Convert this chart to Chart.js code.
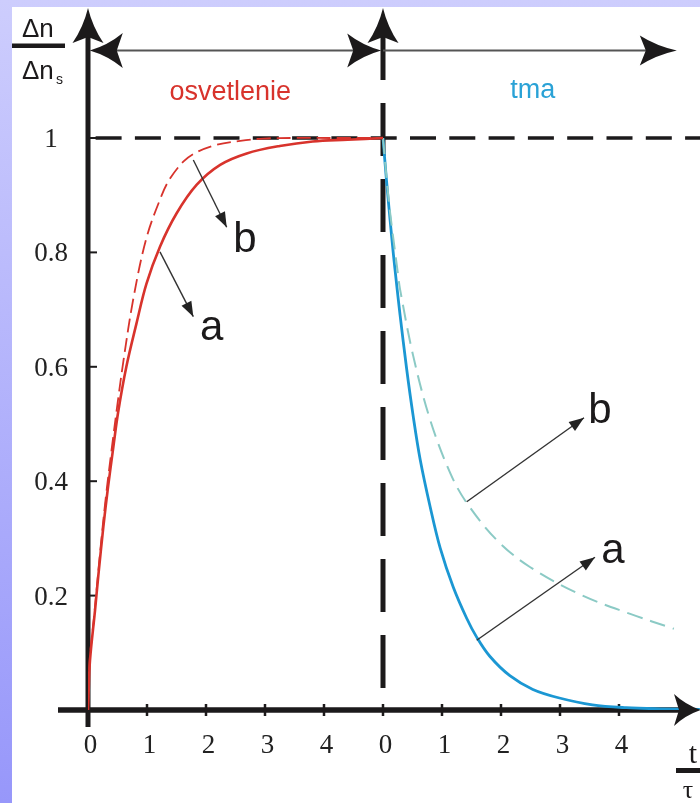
<!DOCTYPE html>
<html><head><meta charset="utf-8">
<script src="https://cdn.jsdelivr.net/npm/chart.js@4/dist/chart.umd.min.js"></script>
<style>html,body{margin:0;padding:0;background:#fff;overflow:hidden}canvas{display:block}</style>
</head><body>
<canvas id="c" width="700" height="803"></canvas>
<script>
// ---- data ----
const darkStart = 5;          // x position where the dark phase (t/tau = 0) begins
const xMax = 10.373;
const yMax = 1.229;
const xTickValues = [0, 1, 2, 3, 4, 5, 6, 7, 8, 9];
const xTickLabels = ['0', '1', '2', '3', '4', '0', '1', '2', '3', '4'];
const yTickValues = [0.2, 0.4, 0.6, 0.8, 1];
const yTickLabels = ['0.2', '0.4', '0.6', '0.8', '1'];

// illumination (rise), curve a (solid) and b (dashed)
const riseAT = [0, 0.01, 0.034, 0.12, 0.175, 0.26, 0.34, 0.43, 0.51, 0.65, 0.82, 0.99, 1.22, 1.5, 1.84, 2.24, 2.69, 3.25, 3.81, 4.4, 5.0];
const riseAY = [0, 0.03, 0.087, 0.175, 0.235, 0.32, 0.39, 0.46, 0.52, 0.60, 0.675, 0.745, 0.81, 0.868, 0.918, 0.953, 0.973, 0.986, 0.994, 0.997, 1.0];
const riseBT = [0, 0.01, 0.03, 0.1, 0.2, 0.3, 0.4, 0.5, 0.6, 0.77, 0.99, 1.25, 1.39, 1.62, 1.84, 2.18, 2.58, 2.97, 3.5, 4.2, 5.0];
const riseBY = [0, 0.035, 0.09, 0.16, 0.27, 0.37, 0.455, 0.535, 0.61, 0.72, 0.825, 0.90, 0.929, 0.959, 0.975, 0.988, 0.995, 0.999, 1.0, 1.0, 1.0];

// darkness (decay), curve a (solid) and b (dashed)
const decayAT = [0, 0.06, 0.12, 0.175, 0.23, 0.29, 0.40, 0.51, 0.63, 0.80, 0.97, 1.19, 1.42, 1.59, 1.81, 2.15, 2.54, 2.99, 3.55, 4.12, 4.7, 5.37];
const decayAY = [1.0, 0.925, 0.857, 0.798, 0.745, 0.69, 0.597, 0.515, 0.438, 0.355, 0.283, 0.215, 0.16, 0.127, 0.094, 0.06, 0.036, 0.021, 0.009, 0.004, 0.002, 0.001];
const decayBT = [0, 0.06, 0.12, 0.25, 0.29, 0.51, 0.8, 1.14, 1.42, 1.93, 2.49, 3.34, 4.19, 4.93];
const decayBY = [1.0, 0.93, 0.87, 0.765, 0.735, 0.62, 0.507, 0.414, 0.362, 0.297, 0.25, 0.202, 0.168, 0.142];

// phase labels and curve tags
const phaseLabels = ['osvetlenie', 'tma'];
const phaseLabelX = [2.41, 7.54];
const phaseLabelY = [1.066, 1.07];
const tagText = ['b', 'a', 'b', 'a'];
const tagX = [2.46, 1.9, 8.48, 8.70];
const tagY = [0.80, 0.647, 0.502, 0.257];
const tagFromX = [1.785, 1.22, 6.419, 6.588];
const tagFromY = [0.9615, 0.801, 0.364, 0.122];
const tagToX = [2.351, 1.785, 8.407, 8.593];
const tagToY = [0.844, 0.6876, 0.511, 0.267];
const phaseArrowY = 1.153;

const RED = '#d8332c', BLUE = '#1b97d3', TEAL = '#8bcac5', INK = '#1c1a1b';

function pts(ts, ys, off) { return ts.map((t, i) => ({ x: t + off, y: ys[i] })); }

function head(ctx, tx, ty, dx, dy, L, W, notch) {
  const nx = -dy, ny = dx;
  const bx = tx - dx * L, by = ty - dy * L;
  const mx = tx - dx * (L - notch), my = ty - dy * (L - notch);
  ctx.beginPath();
  ctx.moveTo(tx, ty);
  ctx.quadraticCurveTo(tx - dx * L * 0.55 + nx * W * 0.3, ty - dy * L * 0.55 + ny * W * 0.3, bx + nx * W, by + ny * W);
  ctx.lineTo(mx, my);
  ctx.lineTo(bx - nx * W, by - ny * W);
  ctx.quadraticCurveTo(tx - dx * L * 0.55 - nx * W * 0.3, ty - dy * L * 0.55 - ny * W * 0.3, tx, ty);
  ctx.closePath();
  ctx.fill();
}
function smallHead(ctx, x0, y0, x1, y1) {
  const len = Math.hypot(x1 - x0, y1 - y0), dx = (x1 - x0) / len, dy = (y1 - y0) / len;
  const nx = -dy, ny = dx, L = 15, W = 5.5;
  ctx.beginPath();
  ctx.moveTo(x1, y1);
  ctx.lineTo(x1 - dx * L + nx * W, y1 - dy * L + ny * W);
  ctx.lineTo(x1 - dx * L - nx * W, y1 - dy * L - ny * W);
  ctx.closePath();
  ctx.fill();
}

const deco = {
  id: 'deco',
  beforeDraw(chart) {
    const ctx = chart.ctx;
    ctx.save();
    const g = ctx.createLinearGradient(0, 0, 0, chart.height);
    g.addColorStop(0, '#cdcdfd');
    g.addColorStop(1, '#9797fa');
    ctx.fillStyle = g;
    ctx.fillRect(0, 0, chart.width, chart.height);
    ctx.fillStyle = '#ffffff';
    ctx.fillRect(12, 7, chart.width - 12, chart.height - 7);
    ctx.restore();
  },
  beforeDatasetsDraw(chart) {
    const ctx = chart.ctx, X = v => chart.scales.x.getPixelForValue(v), Y = v => chart.scales.y.getPixelForValue(v);
    ctx.save();
    ctx.strokeStyle = INK; ctx.fillStyle = INK;
    ctx.lineWidth = 3.5;
    ctx.setLineDash([26, 13.3]); ctx.lineDashOffset = 33.7;
    ctx.beginPath(); ctx.moveTo(X(0) + 2, Y(1)); ctx.lineTo(chart.width, Y(1)); ctx.stroke();
    ctx.lineWidth = 5;
    ctx.setLineDash([53, 23]); ctx.lineDashOffset = 0;
    ctx.beginPath(); ctx.moveTo(X(darkStart), Y(0) - 22); ctx.lineTo(X(darkStart), 30); ctx.stroke();
    ctx.setLineDash([]);
    ctx.lineWidth = 5;
    ctx.beginPath(); ctx.moveTo(X(0), Y(0) + 17); ctx.lineTo(X(0), 30); ctx.stroke();
    ctx.lineWidth = 5.5;
    ctx.beginPath(); ctx.moveTo(X(0) - 30, Y(0)); ctx.lineTo(chart.width - 12, Y(0)); ctx.stroke();
    ctx.lineWidth = 2.5;
    xTickValues.forEach(v => { ctx.beginPath(); ctx.moveTo(X(v), Y(0) - 6); ctx.lineTo(X(v), Y(0) + 6); ctx.stroke(); });
    ctx.lineWidth = 2;
    yTickValues.forEach(v => { ctx.beginPath(); ctx.moveTo(X(0), Y(v)); ctx.lineTo(X(0) + 9, Y(v)); ctx.stroke(); });
    head(ctx, X(0), 8, 0, -1, 35, 15.5, 6);
    head(ctx, X(darkStart), 8, 0, -1, 35, 15.5, 6);
    ctx.restore();
  },
  afterDatasetsDraw(chart) {
    const ctx = chart.ctx, X = v => chart.scales.x.getPixelForValue(v), Y = v => chart.scales.y.getPixelForValue(v);
    ctx.save();
    ctx.fillStyle = INK;
    head(ctx, chart.width + 1, Y(0), 1, 0, 27, 16, 5);
    const ay = Y(phaseArrowY);
    ctx.strokeStyle = '#555'; ctx.lineWidth = 2;
    ctx.beginPath(); ctx.moveTo(X(0) + 20, ay); ctx.lineTo(X(darkStart) - 15, ay); ctx.stroke();
    ctx.beginPath(); ctx.moveTo(X(darkStart), ay); ctx.lineTo(X(9.98) - 20, ay); ctx.stroke();
    ctx.fillStyle = INK;
    head(ctx, X(0.03), ay, -1, 0, 33, 17.5, 6);
    head(ctx, X(darkStart - 0.03), ay, 1, 0, 34, 17, 6);
    head(ctx, X(9.98), ay, 1, 0, 37, 15, 6);
    ctx.strokeStyle = '#333'; ctx.fillStyle = '#222'; ctx.lineWidth = 1.4;
    for (let i = 0; i < tagText.length; i++) {
      const x0 = X(tagFromX[i]), y0 = Y(tagFromY[i]), x1 = X(tagToX[i]), y1 = Y(tagToY[i]);
      ctx.beginPath(); ctx.moveTo(x0, y0); ctx.lineTo(x1, y1); ctx.stroke();
      smallHead(ctx, x0, y0, x1, y1);
    }
    ctx.fillStyle = INK;
    ctx.font = '42px "Liberation Sans", Arial, sans-serif';
    ctx.textAlign = 'left'; ctx.textBaseline = 'alphabetic';
    for (let i = 0; i < tagText.length; i++) ctx.fillText(tagText[i], X(tagX[i]), Y(tagY[i]));
    ctx.font = '27px "Liberation Sans", Arial, sans-serif';
    ctx.textAlign = 'center';
    ctx.fillStyle = RED; ctx.fillText(phaseLabels[0], X(phaseLabelX[0]), Y(phaseLabelY[0]));
    ctx.fillStyle = '#2aa2d6'; ctx.fillText(phaseLabels[1], X(phaseLabelX[1]), Y(phaseLabelY[1]));
    ctx.fillStyle = '#222';
    ctx.font = '27px "Liberation Serif", "Times New Roman", serif';
    ctx.textAlign = 'center';
    xTickValues.forEach((v, i) => ctx.fillText(xTickLabels[i], X(v) + 2.5, Y(0) + 43));
    yTickValues.forEach((v, i) => ctx.fillText(yTickLabels[i], 51, Y(v) + 9));
    ctx.fillStyle = INK;
    ctx.font = '26px "Liberation Sans", Arial, sans-serif';
    ctx.textAlign = 'left';
    ctx.fillText('Δn', 22, 37);
    ctx.fillRect(12, 43.5, 53, 4.5);
    ctx.fillText('Δn', 22, 79);
    ctx.font = '14px "Liberation Sans", Arial, sans-serif';
    ctx.fillText('s', 56, 84);
    ctx.font = '30px "Liberation Serif", "Times New Roman", serif';
    ctx.textAlign = 'center';
    ctx.fillText('t', 693, 763);
    ctx.fillRect(676, 768, 24, 5);
    ctx.font = '26px "Liberation Serif", "Times New Roman", serif';
    ctx.fillText('τ', 688, 798);
    ctx.restore();
  }
};

new Chart(document.getElementById('c'), {
  type: 'line',
  data: {
    datasets: [
      { data: pts(riseBT, riseBY, 0), borderColor: RED, borderWidth: 1.8, borderDash: [14, 6] },
      { data: pts(riseAT, riseAY, 0), borderColor: RED, borderWidth: 2.6 },
      { data: pts(decayBT, decayBY, darkStart), borderColor: TEAL, borderWidth: 2, borderDash: [16, 8] },
      { data: pts(decayAT, decayAY, darkStart), borderColor: BLUE, borderWidth: 2.8 }
    ]
  },
  options: {
    responsive: false, animation: false, devicePixelRatio: 1,
    layout: { padding: { left: 88, right: 0, top: 7, bottom: 93 } },
    elements: { point: { radius: 0 }, line: { tension: 0.35, fill: false } },
    plugins: { legend: { display: false }, tooltip: { enabled: false } },
    scales: {
      x: { type: 'linear', min: 0, max: xMax, display: false },
      y: { type: 'linear', min: 0, max: yMax, display: false }
    }
  },
  plugins: [deco]
});
</script>
</body></html>
